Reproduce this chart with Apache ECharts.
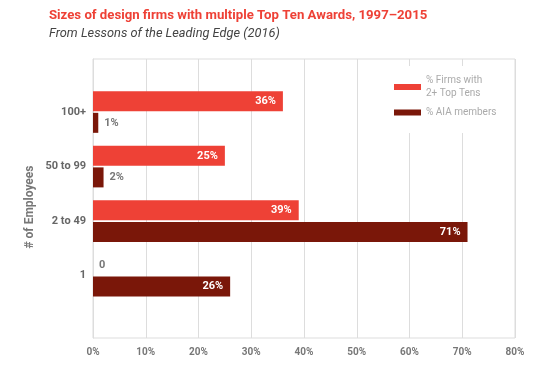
<!DOCTYPE html>
<html><head><meta charset="utf-8">
<script src="https://cdn.jsdelivr.net/npm/echarts@6/dist/echarts.min.js"></script>
<style>html,body{margin:0;padding:0;background:#fff}#c{width:550px;height:366px}</style>
</head><body><div id="c"></div>
<script>
const categories = ["100+", "50 to 99", "2 to 49", "1"];
const firmsTopTens = [36, 25, 39, 0];
const aiaMembers = [1, 2, 71, 26];
const xTicks = [0, 10, 20, 30, 40, 50, 60, 70, 80];
const seriesNames = ["% Firms with\n2+ Top Tens", "% AIA members"];

const RED = "#ee4136", DARK = "#7a1709";
const FONT = "Roboto";

function labelFor(v) {
  if (v >= 10) {
    return { show: true, position: "insideRight", distance: 7, color: "#fff", fontWeight: "bold", fontSize: 11, fontFamily: FONT,
      formatter: v + "%" };
  }
  return { show: true, position: "right", distance: 6, color: "#777", fontWeight: "bold", fontSize: 11, fontFamily: FONT,
    formatter: v === 0 ? "0" : v + "%" };
}

const chart = echarts.init(document.getElementById("c"), null, { renderer: "canvas" });
chart.setOption({
  animation: false,
  backgroundColor: "#fff",
  title: [{
    text: "Sizes of design firms with multiple Top Ten Awards, 1997–2015",
    subtext: "From Lessons of the Leading Edge (2016)",
    left: 44, top: 4, itemGap: 5,
    textStyle: { color: RED, fontSize: 13.2, fontWeight: "bold", fontFamily: FONT },
    subtextStyle: { color: "#444", fontSize: 12.8, fontStyle: "italic", fontFamily: FONT }
  }],
  graphic: [{
    type: "text", x: 30, y: 207, rotation: Math.PI / 2,
    style: { text: "# of Employees", fill: "#777", font: "bold 12px " + FONT, textAlign: "center", textVerticalAlign: "middle" }
  }],
  legend: {
    orient: "vertical", left: 384, top: 66, itemWidth: 27, itemHeight: 6, itemGap: 6,
    backgroundColor: "#fff", padding: [8, 10, 14, 10],
    icon: "rect",
    textStyle: { color: "#aaa", fontSize: 10, fontFamily: FONT, lineHeight: 13 },
    data: seriesNames
  },
  grid: [
    { left: 93, right: 35, top: 59, bottom: 28, show: true, borderColor: "#ddd", borderWidth: 1, backgroundColor: "transparent" },
    { left: 93, right: 35, top: 84.75, bottom: 63 }
  ],
  xAxis: [
    { gridIndex: 0, type: "value", min: 0, max: 80, interval: 10,
      axisLine: { show: false }, axisTick: { show: false },
      splitLine: { show: true, lineStyle: { color: "#ddd", width: 1 } },
      axisLabel: { formatter: "{value}%", color: "#777", fontSize: 10, fontWeight: "bold", fontFamily: FONT, margin: 9 } },
    { gridIndex: 1, type: "value", min: 0, max: 80, show: false, splitLine: { show: false } }
  ],
  yAxis: [
    { gridIndex: 0, type: "value", min: 0, max: 1, show: true, axisLine: { show: true, lineStyle: { color: "#ddd" } },
      axisLabel: { show: false }, axisTick: { show: false }, splitLine: { show: false } },
    { gridIndex: 1, type: "category", data: categories, inverse: true,
      axisLine: { show: false }, axisTick: { show: false },
      axisLabel: { color: "#666", fontSize: 11, fontWeight: "bold", fontFamily: FONT, margin: 7 } }
  ],
  series: [
    { name: seriesNames[0], type: "bar", xAxisIndex: 1, yAxisIndex: 1, barWidth: 20, barGap: "8%",
      itemStyle: { color: RED },
      data: firmsTopTens.map(v => ({ value: v, label: labelFor(v) })) },
    { name: seriesNames[1], type: "bar", xAxisIndex: 1, yAxisIndex: 1, barWidth: 20, barGap: "8%",
      itemStyle: { color: DARK },
      data: aiaMembers.map(v => ({ value: v, label: labelFor(v) })) }
  ]
});
</script></body></html>
